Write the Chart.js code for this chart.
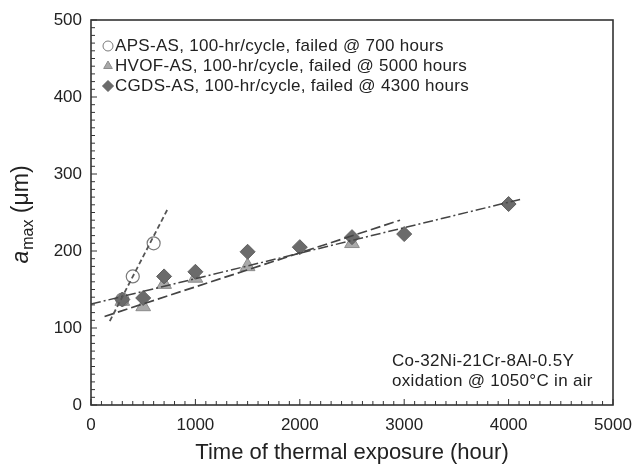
<!DOCTYPE html>
<html>
<head>
<meta charset="utf-8">
<script src="https://cdn.jsdelivr.net/npm/chart.js@4"></script>
<style>
  html, body { margin: 0; padding: 0; background: #fff; }
  #wrap { width: 633px; height: 466px; }
</style>
</head>
<body>
<div id="wrap"><canvas id="chartAmax" width="633" height="466"></canvas></div>
<script>
// Datos
const apsHoras = [300, 400, 600];
const apsAmax = [137, 167, 210];
const hvofHoras = [300, 500, 700, 1000, 1500, 2500];
const hvofAmax = [135, 128, 157, 165, 180, 210];
const cgdsHoras = [300, 500, 700, 1000, 1500, 2000, 2500, 3000, 4000];
const cgdsAmax = [137, 139, 167, 173, 199, 205, 218, 222, 261];

// Líneas de tendencia (extremos)
const apsAjusteHoras = [180, 740];
const apsAjuste = [109, 256];
const hvofAjusteHoras = [130, 2960];
const hvofAjuste = [115, 240];
const cgdsAjusteHoras = [0, 4110];
const cgdsAjuste = [131, 267];

const etiquetas = [
    'APS-AS, 100-hr/cycle, failed @ 700 hours',
    'HVOF-AS, 100-hr/cycle, failed @ 5000 hours',
    'CGDS-AS, 100-hr/cycle, failed @ 4300 hours'
];
const notas = ['Co-32Ni-21Cr-8Al-0.5Y', 'oxidation @ 1050°C in air'];

const fuente = '"Liberation Sans", Arial, sans-serif';

function puntos(xs, ys) {
    return xs.map((x, i) => ({ x: x, y: ys[i] }));
}

// Marco, marcas hacia dentro, leyenda, notas y título del eje y
const decoracion = {
    id: 'decoracion',
    afterDraw(chart) {
        const ctx = chart.ctx;
        const a = chart.chartArea;
        const sx = chart.scales.x;
        const sy = chart.scales.y;
        ctx.save();
        ctx.strokeStyle = '#333';
        ctx.lineWidth = 1.6;
        ctx.strokeRect(a.left, a.top, a.right - a.left, a.bottom - a.top);

        ctx.lineWidth = 1;
        for (let v = 0; v <= 5000; v += 100) {
            const px = sx.getPixelForValue(v);
            const len = v % 1000 === 0 ? 6 : 4;
            ctx.beginPath();
            ctx.moveTo(px, a.bottom);
            ctx.lineTo(px, a.bottom - len);
            ctx.stroke();
        }
        for (let v = 0; v <= 500; v += 10) {
            const py = sy.getPixelForValue(v);
            const len = v % 100 === 0 ? 6 : 4;
            ctx.beginPath();
            ctx.moveTo(a.left, py);
            ctx.lineTo(a.left + len, py);
            ctx.stroke();
        }

        // Leyenda
        const estilos = [0, 1, 2].map(i => chart.data.datasets[i]);
        ctx.letterSpacing = '0.3px';
        estilos.forEach((ds, i) => {
            const y = a.top + 26 + i * 20;
            ctx.fillStyle = ds.backgroundColor;
            ctx.strokeStyle = ds.borderColor;
            ctx.lineWidth = 1;
            Chart.helpers.drawPoint(ctx, {
                pointStyle: ds.pointStyle,
                radius: ds.pointStyle === 'rectRot' ? 5.5 : 5,
                rotation: 0,
                borderWidth: 1
            }, a.left + 17, y);
            ctx.fillStyle = '#222';
            ctx.font = '17px ' + fuente;
            ctx.textBaseline = 'middle';
            ctx.textAlign = 'left';
            ctx.fillText(etiquetas[i], a.left + 24, y);
        });

        // Notas
        ctx.font = '17px ' + fuente;
        ctx.fillStyle = '#222';
        notas.forEach((t, i) => ctx.fillText(t, 392, 361 + i * 20));
        ctx.letterSpacing = '0px';

        // Título del eje y
        ctx.translate(28, 215);
        ctx.rotate(-Math.PI / 2);
        ctx.textBaseline = 'alphabetic';
        const fa = 'italic 23px ' + fuente;
        const fm = '16px ' + fuente;
        const fr = '23px ' + fuente;
        ctx.font = fa; const wa = ctx.measureText('a').width;
        ctx.font = fm; const wm = ctx.measureText('max').width;
        ctx.font = fr; const wr = ctx.measureText(' (μm)').width;
        let x0 = -(wa + wm + wr) / 2;
        ctx.font = fa; ctx.fillText('a', x0, 0); x0 += wa + 1;
        ctx.font = fm; ctx.fillText('max', x0, 5); x0 += wm;
        ctx.font = fr; ctx.fillText(' (μm)', x0, 0);
        ctx.restore();
    }
};

const ctx = document.getElementById('chartAmax').getContext('2d');
new Chart(ctx, {
    type: 'scatter',
    data: {
        datasets: [
            {
                label: etiquetas[0],
                data: puntos(apsHoras, apsAmax),
                pointStyle: 'circle',
                pointRadius: 6.5,
                backgroundColor: 'rgba(255,255,255,0)',
                borderColor: '#7a7a7a',
                borderWidth: 1.2,
                order: 1
            },
            {
                label: etiquetas[1],
                data: puntos(hvofHoras, hvofAmax),
                pointStyle: 'triangle',
                pointRadius: 8.5,
                backgroundColor: '#a9a9a9',
                borderColor: '#8c8c8c',
                borderWidth: 1,
                order: 2
            },
            {
                label: etiquetas[2],
                data: puntos(cgdsHoras, cgdsAmax),
                pointStyle: 'rectRot',
                pointRadius: 7.5,
                backgroundColor: '#6b6b6b',
                borderColor: '#5e5e5e',
                borderWidth: 1,
                order: 0
            },
            {
                type: 'line',
                data: puntos(apsAjusteHoras, apsAjuste),
                borderColor: '#555',
                borderWidth: 1.8,
                borderDash: [5, 3],
                pointRadius: 0,
                fill: false,
                order: -1
            },
            {
                type: 'line',
                data: puntos(hvofAjusteHoras, hvofAjuste),
                borderColor: '#444',
                borderWidth: 1.7,
                borderDash: [10, 4],
                pointRadius: 0,
                fill: false,
                order: -1
            },
            {
                type: 'line',
                data: puntos(cgdsAjusteHoras, cgdsAjuste),
                borderColor: '#444',
                borderWidth: 1.5,
                borderDash: [10, 3, 2, 3],
                pointRadius: 0,
                fill: false,
                order: -1
            }
        ]
    },
    options: {
        responsive: false,
        animation: false,
        layout: { padding: { top: 20, right: 20, left: 0, bottom: 0 } },
        plugins: {
            legend: { display: false },
            tooltip: { enabled: false }
        },
        scales: {
            x: {
                type: 'linear',
                min: 0,
                max: 5000,
                grid: { display: false, drawTicks: false },
                border: { display: false },
                ticks: {
                    stepSize: 1000,
                    padding: 10,
                    color: '#222',
                    font: { family: fuente, size: 17 },
                    callback: valor => String(valor)
                },
                title: {
                    display: true,
                    text: 'Time of thermal exposure (hour)',
                    color: '#222',
                    font: { family: fuente, size: 22 },
                    padding: { top: 2, bottom: 0 }
                },
                afterFit: function(scale) {
                    scale.height = 61;
                    scale.paddingLeft = 0;
                    scale.paddingRight = 0;
                }
            },
            y: {
                min: 0,
                max: 500,
                grid: { display: false, drawTicks: false },
                border: { display: false },
                ticks: {
                    stepSize: 100,
                    padding: 9,
                    color: '#222',
                    font: { family: fuente, size: 17 },
                    callback: valor => String(valor)
                },
                afterFit: function(scale) {
                    scale.width = 91;
                    scale.paddingTop = 0;
                    scale.paddingBottom = 0;
                }
            }
        }
    },
    plugins: [decoracion]
});
</script>
</body>
</html>
